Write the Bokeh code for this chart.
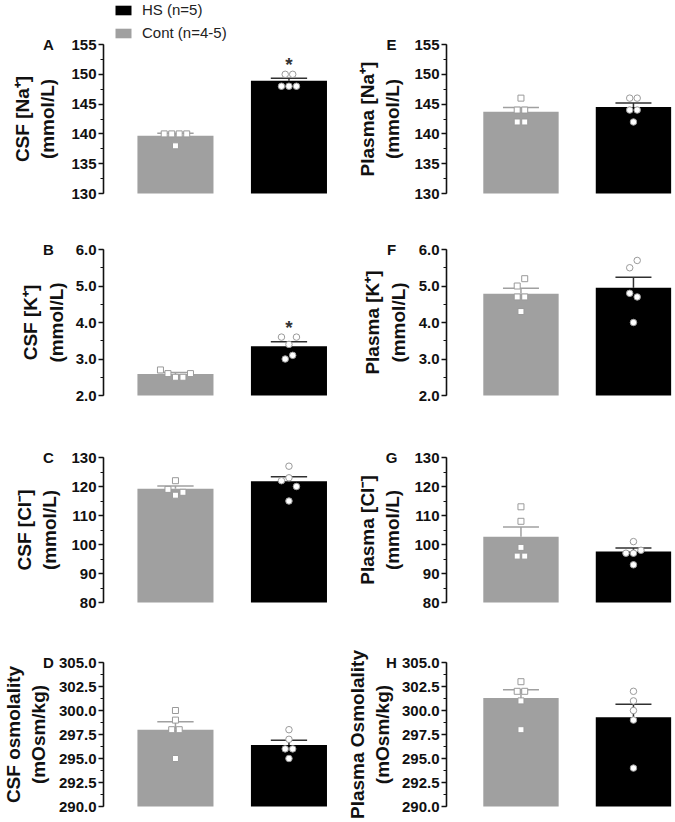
from bokeh.plotting import figure
from bokeh.models import (Range1d, SingleIntervalTicker, PrintfTickFormatter, Label,
                          Legend, LegendItem, ColumnDataSource)
from bokeh.layouts import column, row
from bokeh.embed import file_html
from bokeh.resources import INLINE
from bokeh.core.properties import value

# ---------------- data ----------------
panel_letters = ["A", "B", "C", "D", "E", "F", "G", "H"]
y_labels = ["CSF [Na\u207a]\n(mmol/L)", "CSF [K\u207a]\n(mmol/L)", "CSF [Cl\u207b]\n(mmol/L)",
            "CSF osmolality\n(mOsm/kg)",
            "Plasma [Na\u207a]\n(mmol/L)", "Plasma [K\u207a]\n(mmol/L)", "Plasma [Cl\u207b]\n(mmol/L)",
            "Plasma Osmolality\n(mOsm/kg)"]
y_min = [130, 2.0, 80, 290.0, 130, 2.0, 80, 290.0]
y_max = [155, 6.0, 130, 305.0, 155, 6.0, 130, 305.0]
y_step = [5, 1.0, 10, 2.5, 5, 1.0, 10, 2.5]
tick_format = ["%d", "%.1f", "%d", "%.1f", "%d", "%.1f", "%d", "%.1f"]

cont_mean = [139.7, 2.59, 119.2, 298.0, 143.7, 4.79, 102.7, 301.3]
cont_sem = [0.40, 0.04, 1.00, 0.84, 0.75, 0.15, 3.30, 0.86]
hs_mean = [148.9, 3.35, 121.8, 296.4, 144.5, 4.95, 97.6, 299.3]
hs_sem = [0.45, 0.12, 1.60, 0.51, 0.70, 0.29, 1.20, 1.35]
significant = [True, True, False, False, False, False, False, False]

cont_A = [140, 140, 140, 140, 138]
hs_A = [150, 150, 148, 148, 148]
cont_B = [2.7, 2.6, 2.5, 2.5, 2.6]
hs_B = [3.6, 3.4, 3.6, 3.0, 3.1]
cont_C = [122, 119, 117, 118]
hs_C = [127, 122, 123, 120, 115]
cont_D = [300, 299, 298, 298, 295]
hs_D = [298, 297, 296, 296, 295]
cont_E = [146, 144, 144, 142, 142]
hs_E = [146, 146, 144, 144, 142]
cont_F = [5.0, 5.2, 4.7, 4.7, 4.3]
hs_F = [5.5, 5.7, 4.8, 4.7, 4.0]
cont_G = [113, 108, 99, 96, 96]
hs_G = [101, 97, 97, 98, 93]
cont_H = [303, 302, 302, 301, 298]
hs_H = [302, 301, 300, 299, 294]

cont_points = [cont_A, cont_B, cont_C, cont_D, cont_E, cont_F, cont_G, cont_H]
hs_points = [hs_A, hs_B, hs_C, hs_D, hs_E, hs_F, hs_G, hs_H]

group_labels = ["HS (n=5)", "Cont (n=4-5)"]

# ---------------- style / layout ----------------
FONT = "Liberation Sans"
GRAY = "#a0a0a0"
BLACK = "#000000"
PT_GRAY = "#9a9a9a"
HS_ERR = "#303030"

row_heights = [221, 205, 206, 188]
border_top = [44, 28, 31, 30]
frame_h = [149, 146, 145, 144]
col_width = [335, 340]
col_border_left = [103, 111]
col_border_right = [5, 2]
col_xrange = [(-0.634, 1.366), (-0.662, 1.356)]
label_standoff = [10, 6, 8, 7, 8, 7, 8, 6]
BAR_W = 0.67
CAP_W = 0.32


def swarm(vals, ppy, ppx, d_px=7.5, thr=7.5):
    order = sorted(range(len(vals)), key=lambda i: vals[i])
    clusters, cur = [], [order[0]]
    for a, b in zip(order[:-1], order[1:]):
        if (vals[b] - vals[a]) * ppy < thr:
            cur.append(b)
        else:
            clusters.append(cur)
            cur = [b]
    clusters.append(cur)
    offs = [0.0] * len(vals)
    for c in clusters:
        c = sorted(c)
        n = len(c)
        for k, i in enumerate(c):
            offs[i] = (k - (n - 1) / 2) * d_px / ppx
    return offs


def make_panel(idx):
    col = idx // 4
    r = idx % 4
    W = col_width[col]
    H = row_heights[r]
    fh = frame_h[r]
    bt = border_top[r]
    bb = H - bt - fh
    bl = col_border_left[col]
    br = col_border_right[col]
    x0, x1 = col_xrange[col]
    ppx = (W - bl - br) / (x1 - x0)
    ymin, ymax = y_min[idx], y_max[idx]
    ppy = fh / (ymax - ymin)

    # the frame covers the whole figure; the y axis is pinned at x0
    p = figure(width=W, height=H, output_backend="svg", toolbar_location=None,
               title_location=None,
               x_range=Range1d(x0 - bl / ppx, x1 + br / ppx),
               y_range=Range1d(ymin - bb / ppy, ymax + bt / ppy),
               x_axis_location=None, min_border=0, min_border_left=0,
               min_border_right=0, min_border_top=0, min_border_bottom=0)
    p.grid.visible = False
    p.outline_line_color = None
    p.background_fill_color = "white"
    p.border_fill_color = "white"

    ax = p.yaxis[0]
    ax.fixed_location = x0
    ax.bounds = (ymin, ymax)
    ax.ticker = SingleIntervalTicker(interval=y_step[idx], num_minor_ticks=2)
    ax.formatter = PrintfTickFormatter(format=tick_format[idx])
    ax.axis_line_width = 1.6
    ax.axis_line_color = "#111111"
    ax.major_tick_line_width = 1.6
    ax.major_tick_line_color = "#111111"
    ax.major_tick_out = 5
    ax.major_tick_in = 0
    ax.minor_tick_line_width = 1.2
    ax.minor_tick_line_color = "#111111"
    ax.minor_tick_out = 3
    ax.minor_tick_in = 0
    ax.major_label_text_font = FONT
    ax.major_label_text_font_size = "15px"
    ax.major_label_text_font_style = "bold"
    ax.major_label_text_color = "#111111"
    ax.major_label_standoff = 2
    ax.axis_label = y_labels[idx]
    ax.axis_label_text_font = FONT
    ax.axis_label_text_font_size = "19px"
    ax.axis_label_text_font_style = "bold"
    ax.axis_label_text_color = "#111111"
    ax.axis_label_standoff = label_standoff[idx]

    cont_bar = p.vbar(x=[0], top=[cont_mean[idx]], bottom=ymin, width=BAR_W,
                      fill_color=GRAY, line_color=None)
    hs_bar = p.vbar(x=[1], top=[hs_mean[idx]], bottom=ymin, width=BAR_W,
                    fill_color=BLACK, line_color=None)

    means = [cont_mean[idx], hs_mean[idx]]
    sems = [cont_sem[idx], hs_sem[idx]]
    tops = [m + s for m, s in zip(means, sems)]
    err = ColumnDataSource(dict(x=[0, 1], m=means, t=tops,
                                xl=[-CAP_W / 2, 1 - CAP_W / 2], xr=[CAP_W / 2, 1 + CAP_W / 2],
                                c=[GRAY, HS_ERR]))
    p.segment(x0="x", y0="m", x1="x", y1="t", source=err, line_color="c", line_width=1.5)
    p.segment(x0="xl", y0="t", x1="xr", y1="t", source=err, line_color="c", line_width=1.5)

    cv = cont_points[idx]
    hv = hs_points[idx]
    co = swarm(cv, ppy, ppx)
    ho = swarm(hv, ppy, ppx)
    p.scatter(x=[0 + o for o in co], y=cv, marker="square", size=6,
              fill_color="white", line_color=PT_GRAY, line_width=1)
    p.scatter(x=[1 + o for o in ho], y=hv, marker="circle", size=6.5,
              fill_color="white", line_color=PT_GRAY, line_width=1)

    if significant[idx]:
        ys = max(tops[1], max(hv))
        p.text(x=[1], y=[ys], text=["*"], y_offset=-10, text_align="center",
               text_baseline="middle", text_font=value(FONT), text_font_size="19px",
               text_font_style="bold", text_color="#333333")

    # panel letter beside the top tick
    p.add_layout(Label(x=x0 - 55 / ppx, y=ymax, text=panel_letters[idx],
                       text_align="center", text_baseline="middle", text_font=FONT,
                       text_font_size="15px", text_font_style="bold", text_color="#111111"))

    if idx == 0:
        leg = Legend(items=[LegendItem(label=group_labels[0], renderers=[hs_bar]),
                            LegendItem(label=group_labels[1], renderers=[cont_bar])],
                     location=(113, H - 41), glyph_width=20, glyph_height=12,
                     label_height=12, label_standoff=9, spacing=6, padding=0, margin=0,
                     border_line_color=None, background_fill_alpha=0,
                     label_text_font=FONT, label_text_font_size="15px",
                     label_text_color="#222222")
        p.add_layout(leg)
    return p


figs = [make_panel(i) for i in range(8)]
layout = column(*[row(figs[r], figs[r + 4]) for r in range(4)])

open("out.html", "w").write(file_html(layout, INLINE))
